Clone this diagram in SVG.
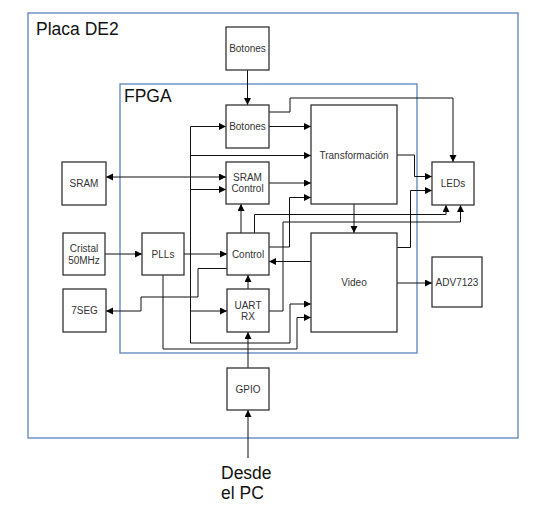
<svg xmlns="http://www.w3.org/2000/svg" width="555" height="509" viewBox="0 0 555 509">
<style>
.box{fill:#fff;stroke:#333;stroke-width:1.3}
.cont{fill:none;stroke:#5a82bd;stroke-width:1.3}
.t{font-family:"Liberation Sans",Arial,sans-serif;font-size:10px;fill:#333;text-anchor:middle}
.big{font-family:"Liberation Sans",Arial,sans-serif;font-size:17.5px;fill:#111}
.c{fill:none;stroke:#111;stroke-width:1}
.a{marker-end:url(#ah)}
</style>
<defs>
<marker id="ah" markerUnits="userSpaceOnUse" markerWidth="8" markerHeight="8" refX="7" refY="3.5" orient="auto"><path d="M0,0 L7,3.5 L0,7 z" fill="#000"/></marker>
<marker id="as" markerUnits="userSpaceOnUse" markerWidth="8" markerHeight="8" refX="7" refY="3.5" orient="auto-start-reverse"><path d="M0,0 L7,3.5 L0,7 z" fill="#000"/></marker>
</defs>
<g id="placa"><rect class="cont" x="28" y="13" width="490" height="425"/><text class="big" x="36" y="35">Placa DE2</text></g>
<g id="fpga"><rect class="cont" x="120" y="84" width="297" height="269"/><text class="big" x="124" y="102">FPGA</text></g>
<g id="connectors">
<path class="c a" d="M247.5,70 V105"/>
<path class="c a" d="M269,126.5 H311"/>
<path class="c a" d="M269,112 H290 V98 H453 V162"/>
<path class="c" d="M190.5,126.5 V343 H290 V304"/>
<path class="c a" d="M290,304 H311"/>
<path class="c a" d="M190.5,126.5 H226"/>
<path class="c a" d="M190.5,155.5 H311"/>
<path class="c a" d="M190.5,189.5 H226"/>
<path class="c a" d="M190.5,311 H227"/>
<path class="c" d="M106,177 H226" marker-start="url(#as)" marker-end="url(#as)"/>
<path class="c a" d="M269,183 H311"/>
<path class="c a" d="M269,247 H289.5 V197.5 H311"/>
<path class="c a" d="M241,233 V204"/>
<path class="c a" d="M254.5,233 V214.5 H446 V205"/>
<path class="c a" d="M269,311 H283 V222 H460.5 V205"/>
<path class="c a" d="M105,254 H142"/>
<path class="c a" d="M184,254 H227"/>
<path class="c a" d="M163,275 V349 H297 V317.5 H311"/>
<path class="c a" d="M311,261.5 H269"/>
<path class="c a" d="M227,268.5 H198 V297 H141 V311 H106"/>
<path class="c a" d="M248,289 V275"/>
<path class="c a" d="M248,368 V332"/>
<path class="c a" d="M248,458 V410"/>
<path class="c a" d="M397,155 H414.5 V176.5 H432"/>
<path class="c a" d="M397,247.5 H410.5 V190.5 H432"/>
<path class="c a" d="M397,283 H432"/>
<path class="c a" d="M354,204 V233"/>
</g>
<g id="botones-ext"><rect class="box" x="226" y="27" width="43" height="43"/><text class="t" x="247.5" y="52">Botones</text></g>
<g id="botones"><rect class="box" x="226" y="105" width="43" height="43"/><text class="t" x="247.5" y="130">Botones</text></g>
<g id="sram-control"><rect class="box" x="226" y="162" width="43" height="42"/><text class="t" x="247.5" y="181">SRAM</text><text class="t" x="247.5" y="192">Control</text></g>
<g id="transformacion"><rect class="box" x="311" y="105" width="86" height="99"/><text class="t" x="354" y="158.5">Transformación</text></g>
<g id="leds"><rect class="box" x="432" y="162" width="42" height="43"/><text class="t" x="453" y="187">LEDs</text></g>
<g id="sram"><rect class="box" x="62" y="162" width="44" height="43"/><text class="t" x="84" y="187">SRAM</text></g>
<g id="cristal"><rect class="box" x="63" y="233" width="42" height="42"/><text class="t" x="84" y="252">Cristal</text><text class="t" x="84" y="263.5">50MHz</text></g>
<g id="plls"><rect class="box" x="142" y="233" width="42" height="42"/><text class="t" x="163" y="257.5">PLLs</text></g>
<g id="control"><rect class="box" x="227" y="233" width="42" height="42"/><text class="t" x="248" y="257.5">Control</text></g>
<g id="sevenseg"><rect class="box" x="63" y="289" width="43" height="43"/><text class="t" x="84.5" y="314">7SEG</text></g>
<g id="uart"><rect class="box" x="227" y="289" width="42" height="43"/><text class="t" x="248" y="309">UART</text><text class="t" x="248" y="320">RX</text></g>
<g id="video"><rect class="box" x="311" y="233" width="86" height="99"/><text class="t" x="354" y="286">Video</text></g>
<g id="adv"><rect class="box" x="432" y="257" width="50" height="50"/><text class="t" x="457" y="286">ADV7123</text></g>
<g id="gpio"><rect class="box" x="227" y="368" width="42" height="42"/><text class="t" x="248" y="392.5">GPIO</text></g>
<g id="pc"><text class="big" x="221" y="479">Desde</text><text class="big" x="221" y="499">el PC</text></g>
</svg>
